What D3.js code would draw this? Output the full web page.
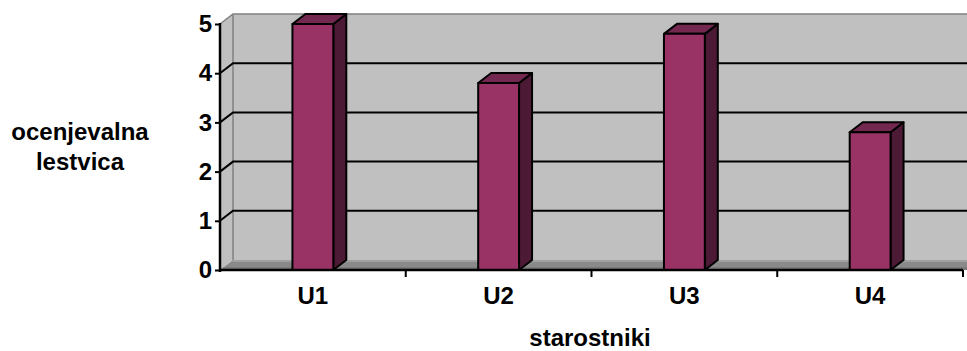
<!DOCTYPE html>
<html>
<head>
<meta charset="utf-8">
<script src="https://cdn.jsdelivr.net/npm/d3@7"></script>
<style>
  body { margin: 0; background: #fff; }
  svg text { font-family: "Liberation Sans", Arial, sans-serif; font-weight: bold; }
</style>
</head>
<body>
<svg id="chart" width="967" height="351"></svg>
<script>
// ocene po starostnikih (3D stolpci kot v Excelu)
var categories = ['U1', 'U2', 'U3', 'U4'];
var values = [5, 3.8, 4.8, 2.8];
var yTicks = [0, 1, 2, 3, 4, 5];

var svg = d3.select('#chart');

// front plane + depth offset of the 3d box
var plotLeft = 220, plotRight = 963, plotBottom = 270, plotTop = 24;
var dx = 13, dy = -10;
var wallEnd = plotRight + 40;

var x = d3.scaleBand().domain(categories).range([plotLeft, plotRight]);
var y = d3.scaleLinear().domain([0, 5]).range([plotBottom, plotTop]);

var poly = function (pts) { return 'M' + pts.map(function (p) { return p.join(','); }).join('L') + 'Z'; };

// back wall
svg.append('path')
  .attr('d', poly([[plotLeft + dx, y(5) + dy], [wallEnd, y(5) + dy], [wallEnd, y(0) + dy], [plotLeft + dx, y(0) + dy]]))
  .attr('fill', '#c0c0c0');

// side wall
svg.append('path')
  .attr('d', poly([[plotLeft, y(5)], [plotLeft + dx, y(5) + dy], [plotLeft + dx, y(0) + dy], [plotLeft, y(0)]]))
  .attr('fill', '#c0c0c0');

// wall edges
svg.append('path')
  .attr('d', 'M' + plotLeft + ',' + y(5) + 'L' + (plotLeft + dx) + ',' + (y(5) + dy) + 'L' + wallEnd + ',' + (y(5) + dy))
  .attr('fill', 'none').attr('stroke', '#808080').attr('stroke-width', 1.5);
svg.append('line')
  .attr('x1', plotLeft + dx).attr('x2', plotLeft + dx)
  .attr('y1', y(5) + dy).attr('y2', y(0) + dy)
  .attr('stroke', '#808080').attr('stroke-width', 1.5);

// floor
svg.append('path')
  .attr('d', poly([[plotLeft, y(0)], [plotLeft + dx, y(0) + dy], [wallEnd, y(0) + dy], [wallEnd, y(0)]]))
  .attr('fill', '#8a8a8a');
svg.append('line')
  .attr('x1', plotLeft + dx).attr('x2', wallEnd)
  .attr('y1', y(0) + dy + 1).attr('y2', y(0) + dy + 1)
  .attr('stroke', '#a0a0a0').attr('stroke-width', 2);
svg.append('path')
  .attr('d', poly([[plotLeft + 4, y(0) - 3], [wallEnd, y(0) - 3], [wallEnd, y(0)], [plotLeft, y(0)]]))
  .attr('fill', '#7a7a7a');

// gridlines
var grid = svg.append('g');
yTicks.filter(function (d) { return d > 0 && d < 5; }).forEach(function (d) {
  grid.append('path')
    .attr('d', 'M' + plotLeft + ',' + y(d) + 'L' + (plotLeft + dx) + ',' + (y(d) + dy) + 'L' + wallEnd + ',' + (y(d) + dy))
    .attr('fill', 'none').attr('stroke', '#000').attr('stroke-width', 2);
});

// bars
var bw = x.bandwidth() * 0.22;
var bars = svg.append('g').selectAll('g')
  .data(categories.map(function (c, i) { return { c: c, v: values[i] }; }))
  .enter().append('g')
  .attr('stroke', '#000').attr('stroke-width', 2).attr('stroke-linejoin', 'round');

bars.append('path') // side
  .attr('fill', '#4d1a36')
  .attr('d', function (d) {
    var x1 = x(d.c) + x.bandwidth() / 2 + bw / 2;
    return poly([[x1, y(d.v)], [x1 + dx, y(d.v) + dy], [x1 + dx, y(0) + dy], [x1, y(0)]]);
  });
bars.append('path') // top
  .attr('fill', '#73284f')
  .attr('d', function (d) {
    var x0 = x(d.c) + x.bandwidth() / 2 - bw / 2;
    return poly([[x0, y(d.v)], [x0 + dx, y(d.v) + dy], [x0 + bw + dx, y(d.v) + dy], [x0 + bw, y(d.v)]]);
  });
bars.append('rect') // front
  .attr('fill', '#993366')
  .attr('x', function (d) { return x(d.c) + x.bandwidth() / 2 - bw / 2; })
  .attr('width', bw)
  .attr('y', function (d) { return y(d.v); })
  .attr('height', function (d) { return y(0) - y(d.v); });

// y axis
var yAxis = svg.append('g')
  .attr('transform', 'translate(' + plotLeft + ',0)')
  .call(d3.axisLeft(y).tickValues(yTicks).tickFormat(d3.format('d')).tickSize(5).tickPadding(3));
yAxis.select('.domain').attr('stroke', '#000').attr('stroke-width', 2.5).attr('d', 'M0,' + (plotTop - 1) + 'V' + (plotBottom + 2));
yAxis.selectAll('.tick line').attr('stroke-width', 2);
yAxis.selectAll('text').attr('font-size', 24).attr('fill', '#000');

// x axis
var xAxis = svg.append('g')
  .attr('transform', 'translate(0,' + plotBottom + ')')
  .call(d3.axisBottom(x).tickSize(0).tickPadding(17));
xAxis.select('.domain').attr('stroke', '#000').attr('stroke-width', 2.5).attr('d', 'M' + plotLeft + ',0H' + plotRight);
xAxis.selectAll('text').attr('font-size', 24).attr('fill', '#000');
xAxis.selectAll('.sep')
  .data(categories)
  .enter().append('line')
  .attr('x1', function (d) { return x(d) + x.bandwidth(); })
  .attr('x2', function (d) { return x(d) + x.bandwidth(); })
  .attr('y1', 0).attr('y2', 7)
  .attr('stroke', '#000').attr('stroke-width', 2);

// axis titles
svg.append('text')
  .attr('x', 590).attr('y', 346)
  .attr('text-anchor', 'middle').attr('font-size', 24)
  .text('starostniki');

var yt = svg.append('text').attr('text-anchor', 'middle').attr('font-size', 24);
yt.append('tspan').attr('x', 80).attr('y', 140).text('ocenjevalna');
yt.append('tspan').attr('x', 80).attr('y', 170).text('lestvica');
</script>
</body>
</html>
